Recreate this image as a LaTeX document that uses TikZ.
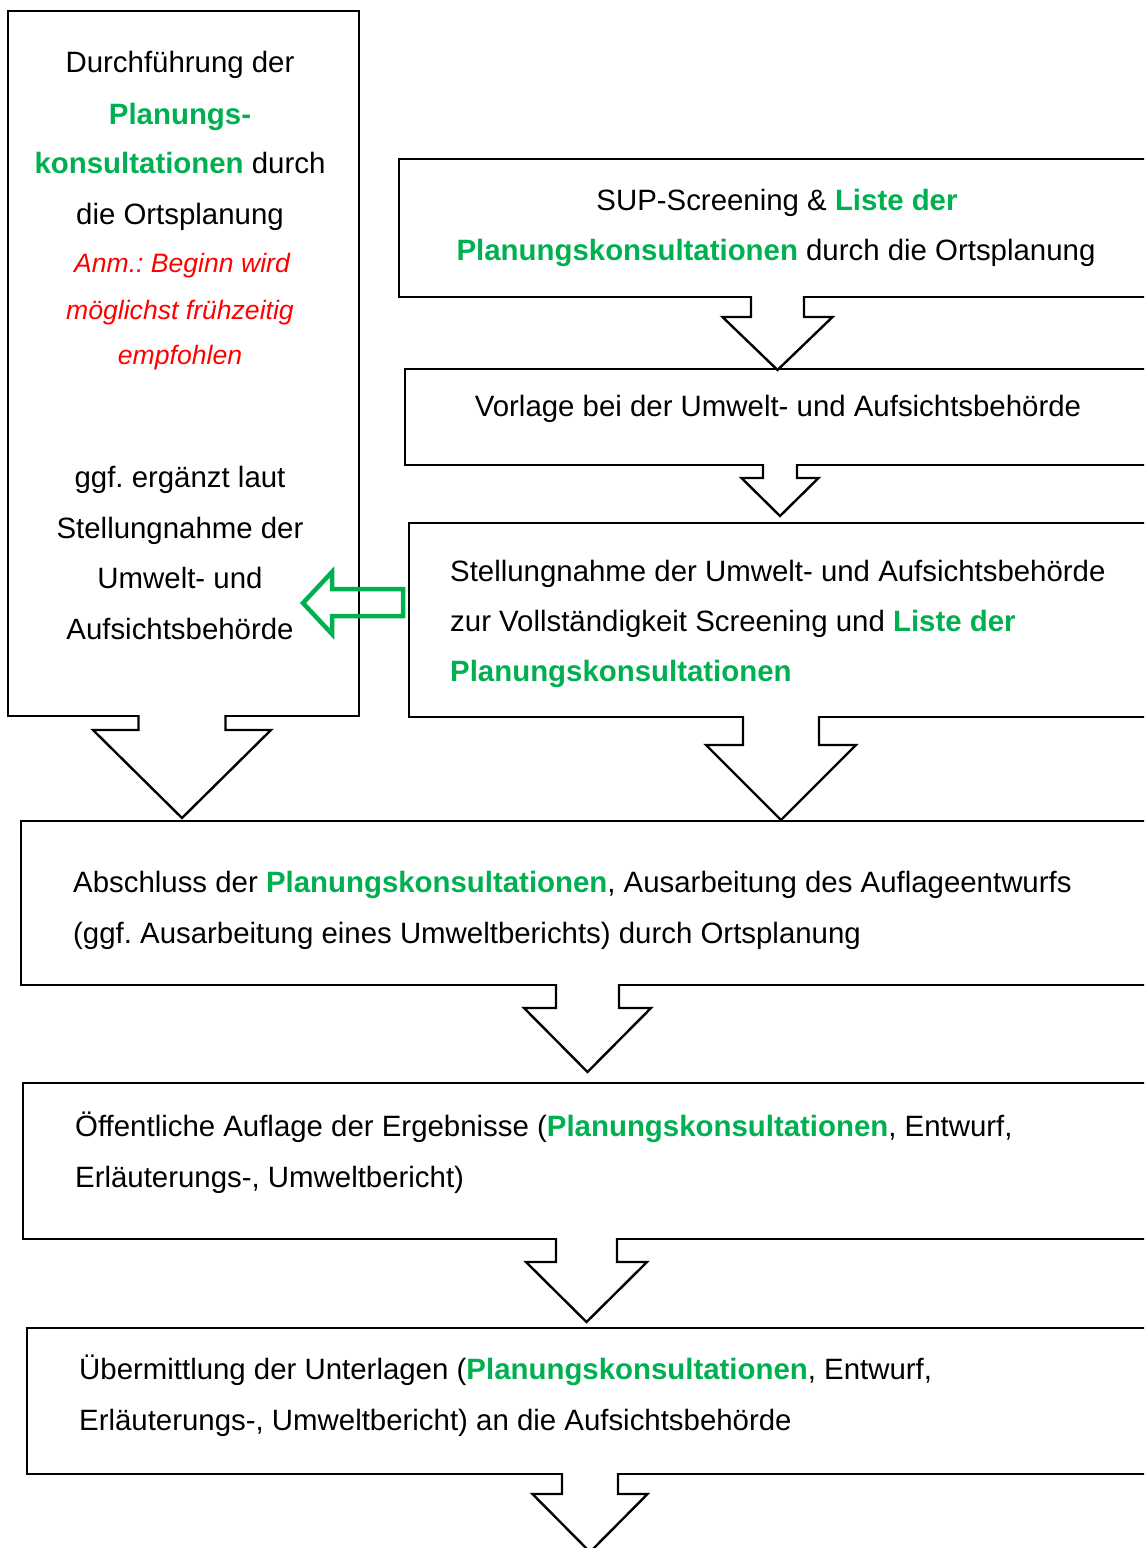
\documentclass[tikz,border=0pt]{standalone}
\usepackage{fontspec}
\setmainfont{Liberation Sans}
\frenchspacing
\definecolor{kgreen}{HTML}{00B050}
\definecolor{kred}{HTML}{FF0000}
\newcommand{\gb}[1]{\textcolor{kgreen}{\bfseries #1}}
% block arrow: #1 x-centre, #2 top y, #3 shaft half width, #4 head y, #5 head half width, #6 tip y
\newcommand{\blockarr}[6]{%
  \fill[white] (#1-#3,#2-3) -- (#1-#3,#4) -- (#1-#5,#4) -- (#1,#6) -- (#1+#5,#4) -- (#1+#3,#4) -- (#1+#3,#2-3) -- cycle;
  \draw[frame, line join=miter] (#1-#3,#2) -- (#1-#3,#4) -- (#1-#5,#4) -- (#1,#6) -- (#1+#5,#4) -- (#1+#3,#4) -- (#1+#3,#2);}
\begin{document}
\begin{tikzpicture}[x=1pt,y=-1pt,
  frame/.style={draw=black, line width=2.4pt},
  txt/.style={inner sep=0pt, anchor=base, font=\fontsize{29.4}{34}\selectfont},
  txtl/.style={inner sep=0pt, anchor=base west, font=\fontsize{29.4}{34}\selectfont},
  rtxt/.style={inner sep=0pt, anchor=base, text=kred, font=\fontsize{26.6}{31}\selectfont\itshape},
]
\useasboundingbox (0,0) rectangle (1144,1548);
\clip (0,0) rectangle (1144,1548);
% boxes
\node[frame, inner sep=0pt, anchor=north west, minimum width=351pt, minimum height=705pt] (left) at (7,10) {};
\node[frame, inner sep=0pt, anchor=north west, minimum width=800pt, minimum height=138pt] (b1) at (398,158) {};
\node[frame, inner sep=0pt, anchor=north west, minimum width=800pt, minimum height=96pt] (b2) at (404,368) {};
\node[frame, inner sep=0pt, anchor=north west, minimum width=800pt, minimum height=194pt] (b3) at (408,522) {};
\node[frame, inner sep=0pt, anchor=north west, minimum width=1200pt, minimum height=164pt] (b4) at (20,820) {};
\node[frame, inner sep=0pt, anchor=north west, minimum width=1200pt, minimum height=156pt] (b5) at (22,1082) {};
\node[frame, inner sep=0pt, anchor=north west, minimum width=1200pt, minimum height=146pt] (b6) at (26,1327) {};
% block arrows
\blockarr{182}{715}{43.5}{730}{89}{818}
\blockarr{777.5}{296}{26.5}{317}{55}{370}
\blockarr{780}{464}{17}{478}{38.5}{516}
\blockarr{781}{716}{38}{745}{75}{820}
\blockarr{587.5}{984}{31.5}{1008}{63.5}{1072}
\blockarr{586.5}{1238}{30.5}{1262}{60.5}{1322}
\blockarr{590}{1473}{28}{1494}{57.5}{1552}
% green arrow
\draw[kgreen, line width=4.5pt, line join=miter] (403,589) -- (332,589) -- (332,572) -- (303,603) -- (332,634) -- (332,616) -- (403,616) -- cycle;
% left box text
\node[txt] (l1) at (180,72) {Durchführung der};
\node[txt] (l2) at (180,124) {\gb{Planungs-}};
\node[txt] (l3) at (180,173) {\gb{konsultationen} durch};
\node[txt] (l4) at (180,224) {die Ortsplanung};
\node[rtxt] (r1) at (182,272) {Anm.: Beginn wird};
\node[rtxt] (r2) at (180,319) {möglichst frühzeitig};
\node[rtxt] (r3) at (180,364) {empfohlen};
\node[txt] (l5) at (180,487) {ggf. ergänzt laut};
\node[txt] (l6) at (180,538) {Stellungnahme der};
\node[txt] (l7) at (180,588) {Umwelt- und};
\node[txt] (l8) at (180,639) {Aufsichtsbehörde};
% box 1
\node[txt] (t11) at (777,210) {SUP-Screening \& \gb{Liste der}};
\node[txt] (t12) at (776,260) {\gb{Planungskonsultationen} durch die Ortsplanung};
% box 2
\node[txt] (t21) at (778,416) {Vorlage bei der Umwelt- und Aufsichtsbehörde};
% box 3
\node[txtl] (t31) at (450,581) {Stellungnahme der Umwelt- und Aufsichtsbehörde};
\node[txtl] (t32) at (450,631) {zur Vollständigkeit Screening und \gb{Liste der}};
\node[txtl] (t33) at (450,681) {\gb{Planungskonsultationen}};
% box 4
\node[txtl] (t41) at (73,892) {Abschluss der \gb{Planungskonsultationen}, Ausarbeitung des Auflageentwurfs};
\node[txtl] (t42) at (73,943) {(ggf. Ausarbeitung eines Umweltberichts) durch Ortsplanung};
% box 5
\node[txtl] (t51) at (75,1136) {Öffentliche Auflage der Ergebnisse (\gb{Planungskonsultationen}, Entwurf,};
\node[txtl] (t52) at (75,1187) {Erläuterungs-, Umweltbericht)};
% box 6
\node[txtl] (t61) at (79,1379) {Übermittlung der Unterlagen (\gb{Planungskonsultationen}, Entwurf,};
\node[txtl] (t62) at (79,1430) {Erläuterungs-, Umweltbericht) an die Aufsichtsbehörde};
\end{tikzpicture}
\end{document}
